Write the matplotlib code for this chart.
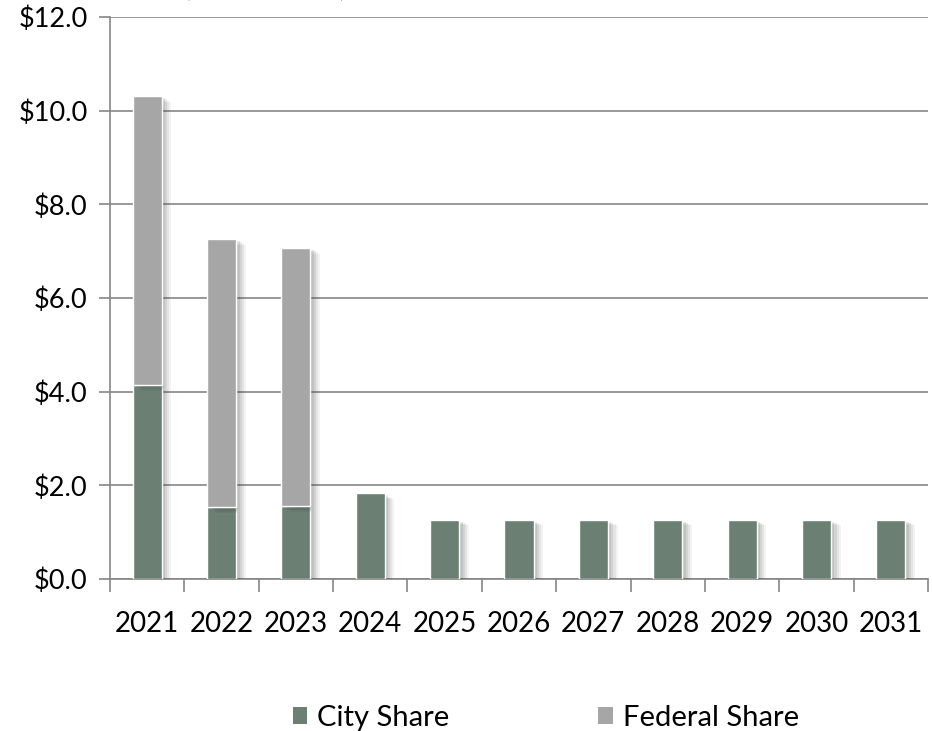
import numpy as np
import matplotlib.pyplot as plt
import matplotlib.patheffects as pe
from matplotlib.patches import Patch
from matplotlib.ticker import FuncFormatter, FixedLocator

plt.rcParams['font.family'] = ['Lato', 'DejaVu Sans']

years = ['2021', '2022', '2023', '2024', '2025', '2026', '2027', '2028', '2029', '2030', '2031']
city_share = [4.14, 1.53, 1.55, 1.83, 1.27, 1.27, 1.27, 1.27, 1.27, 1.27, 1.27]
federal_share = [6.17, 5.73, 5.52, 0, 0, 0, 0, 0, 0, 0, 0]

city_col = '#6b7f73'
fed_col = '#a6a6a6'
grid_col = '#868686'

fig = plt.figure(figsize=(9.32, 7.31), dpi=100)
ax = fig.add_axes([110 / 932, 1 - 579 / 731, (928 - 110) / 932, (579 - 17) / 731])

x = np.arange(len(years))
# soft drop shadow, built from a few offset layers
shadow = [pe.SimplePatchShadow(offset=(o, -o * 0.6), shadow_rgbFace='#404040', alpha=a)
          for o, a in [(7, 0.06), (5.5, 0.08), (4, 0.1), (2.5, 0.12)]] + [pe.Normal()]
ax.bar(x, city_share, width=0.39, color=city_col, edgecolor='white', linewidth=1.0,
       path_effects=shadow, zorder=3)
fed = [f if f > 0 else np.nan for f in federal_share]
ax.bar(x, fed, width=0.39, bottom=city_share, color=fed_col, edgecolor='white', linewidth=1.0,
       path_effects=shadow, zorder=3)

ax.set_xlim(-0.5, len(years) - 0.5)
ax.set_ylim(0, 12)
ax.set_yticks(np.arange(0, 12.1, 2))
ax.yaxis.set_major_formatter(FuncFormatter(lambda v, p: f'${v:.1f}'))
ax.grid(axis='y', color=grid_col, linewidth=1.2, zorder=0)
ax.set_axisbelow(True)

ax.set_xticks(x)
ax.set_xticklabels(years)
ax.xaxis.set_minor_locator(FixedLocator(np.arange(-0.5, len(years), 1)))
ax.tick_params(axis='x', which='major', length=0, pad=23, labelsize=20)
ax.tick_params(axis='x', which='minor', length=9, color=grid_col, width=1.2)
ax.tick_params(axis='y', length=8, color=grid_col, width=1.2, pad=8, labelsize=19.5)

for s in ['top', 'right']:
    ax.spines[s].set_visible(False)
for s in ['left', 'bottom']:
    ax.spines[s].set_color(grid_col)
    ax.spines[s].set_linewidth(1.2)

# title sits mostly above the top edge, as in the source image
fig.text(265 / 932, 1 - (-14) / 731, '($ in millions)', ha='center', va='center',
         fontsize=20, fontweight='bold')

handles = [Patch(facecolor=city_col, label='City Share'),
           Patch(facecolor=fed_col, label='Federal Share')]
ax.legend(handles=handles, loc='center', bbox_to_anchor=(546 / 932, 1 - 718 / 731),
          bbox_transform=fig.transFigure, ncol=2, frameon=False, fontsize=21,
          handlelength=0.5, handleheight=0.5, handletextpad=0.35, columnspacing=5.1,
          borderpad=0, borderaxespad=0)

fig.savefig('out.png', dpi=100)
